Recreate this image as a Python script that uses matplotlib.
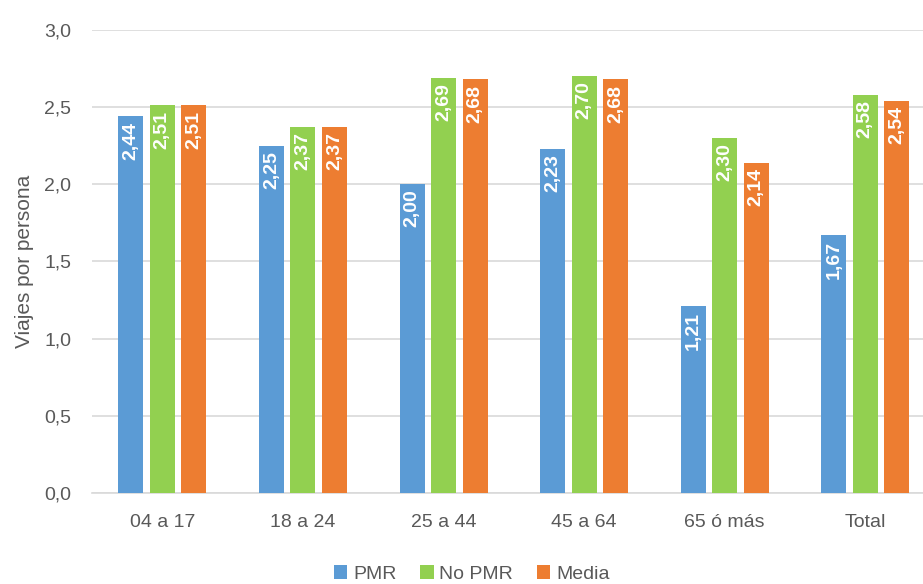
import numpy as np
import matplotlib.pyplot as plt

categorias = ['04 a 17', '18 a 24', '25 a 44', '45 a 64', '65 ó más', 'Total']
pmr = [2.44, 2.25, 2.00, 2.23, 1.21, 1.67]
no_pmr = [2.51, 2.37, 2.69, 2.70, 2.30, 2.58]
media = [2.51, 2.37, 2.68, 2.68, 2.14, 2.54]
series = [('PMR', pmr, '#5B9BD5'), ('No PMR', no_pmr, '#92D050'), ('Media', media, '#ED7D31')]

plt.rcParams['font.family'] = ['Liberation Sans', 'DejaVu Sans']

fig = plt.figure(figsize=(9.23, 5.84), dpi=100)
ax = fig.add_axes([0.0997, 0.156, 0.914, 0.793])

x = np.arange(len(categorias))
w = 0.178
step = 0.224
for i, (nombre, vals, col) in enumerate(series):
    pos = x + (i - 1) * step
    bars = ax.bar(pos, vals, width=w, color=col, label=nombre, zorder=3)
    for b, v in zip(bars, vals):
        ax.text(b.get_x() + b.get_width() / 2, v - 0.035, f'{v:.2f}'.replace('.', ','),
                rotation=90, ha='center', va='top', color='white',
                fontsize=14, fontweight='bold', zorder=4)

ax.set_ylim(0, 3.0)
ax.set_xlim(-0.5, len(categorias) - 0.5)
ticks = np.arange(0, 3.01, 0.5)
ax.set_yticks(ticks)
ax.set_yticklabels([f'{t:.1f}'.replace('.', ',') for t in ticks])
ax.set_xticks(x)
ax.set_xticklabels(categorias)
ax.tick_params(axis='both', length=0, labelsize=14, colors='#595959')
ax.tick_params(axis='y', pad=15)
ax.tick_params(axis='x', pad=15)
ax.yaxis.grid(True, color='#D9D9D9', linewidth=1.2, zorder=0)
for s in ['top', 'right', 'left']:
    ax.spines[s].set_visible(False)
ax.spines['bottom'].set_color('#D9D9D9')
ax.spines['bottom'].set_linewidth(1.2)
ax.set_ylabel('Viajes por persona', fontsize=15, color='#595959', labelpad=7)

fig.legend(*ax.get_legend_handles_labels(), loc='lower center', bbox_to_anchor=(0.511, -0.028),
           ncol=3, frameon=False, fontsize=14, handlelength=0.7, handleheight=0.7,
           handletextpad=0.3, columnspacing=1.2, labelcolor='#595959')

fig.savefig('out.png', dpi=100)
